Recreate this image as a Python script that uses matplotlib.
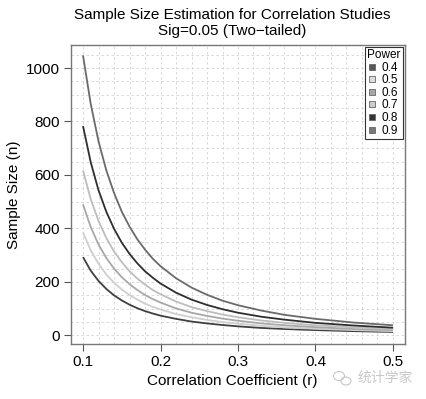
import matplotlib
matplotlib.use("Agg")
import matplotlib.pyplot as plt
from matplotlib.lines import Line2D
from matplotlib.patches import Ellipse
from matplotlib.ticker import MultipleLocator

plt.rcParams['font.family'] = ['Liberation Sans', 'DejaVu Sans']

# Data
r = [0.10, 0.11, 0.12, 0.13, 0.14, 0.15, 0.16, 0.17, 0.18, 0.19, 0.20,
     0.22, 0.24, 0.26, 0.28, 0.30, 0.33, 0.36, 0.40, 0.45, 0.50]
n_p40 = [293, 242, 204, 174, 150, 131, 115, 102, 91, 82, 74,
         62, 52, 45, 39, 34, 28, 24, 20, 16, 13]
n_p50 = [385, 318, 268, 228, 197, 172, 151, 134, 119, 107, 97,
         80, 68, 58, 50, 44, 36, 30, 25, 20, 16]
n_p60 = [490, 405, 340, 290, 250, 218, 192, 170, 151, 136, 123,
         101, 85, 73, 63, 55, 45, 38, 31, 24, 20]
n_p70 = [617, 509, 428, 365, 314, 274, 240, 213, 190, 170, 154,
         127, 106, 91, 78, 68, 56, 47, 38, 30, 24]
n_p80 = [783, 647, 543, 463, 399, 347, 305, 270, 240, 216, 194,
         160, 134, 114, 98, 85, 70, 59, 47, 37, 29]
n_p90 = [1047, 865, 726, 618, 533, 463, 407, 360, 321, 287, 259,
         214, 179, 152, 130, 113, 93, 77, 62, 48, 38]

powers = ['0.4', '0.5', '0.6', '0.7', '0.8', '0.9']
series = [n_p40, n_p50, n_p60, n_p70, n_p80, n_p90]
line_colors = ['#404040', '#cfcfcf', '#a8a8a8', '#bdbdbd', '#2e2e2e', '#6a6a6a']
legend_colors = ['#555555', '#dddddd', '#a6a6a6', '#cccccc', '#333333', '#777777']

fig = plt.figure(figsize=(4.26, 3.99), dpi=100)
ax = fig.add_axes([71/426, 1 - 344/399, (405-71)/426, (344-45)/399])

for vals, col in zip(series, line_colors):
    ax.plot(r, vals, color=col, lw=1.3, solid_capstyle='butt')

ax.set_xlim(0.0845, 0.5155)
ax.set_ylim(-32, 1086)
ax.set_xticks([0.1, 0.2, 0.3, 0.4, 0.5])
ax.set_xticklabels(['0.1', '0.2', '0.3', '0.4', '0.5'])
ax.set_yticks([0, 200, 400, 600, 800, 1000])
ax.xaxis.set_minor_locator(MultipleLocator(0.02))
ax.yaxis.set_minor_locator(MultipleLocator(50))
ax.grid(which='both', color='#d4d4d4', linestyle=(0, (3, 3)), lw=0.6)
ax.set_axisbelow(True)
ax.tick_params(which='minor', length=0)
ax.tick_params(which='major', length=5, width=0.8, color='#555555',
               labelsize=11, pad=3)
for s in ax.spines.values():
    s.set_color('#777777')
    s.set_linewidth(1.0)

ax.set_xlabel('Correlation Coefficient (r)', fontsize=11)
ax.xaxis.set_label_coords((232 - 71) / 334, -(374 - 344) / 299)
ax.set_ylabel('Sample Size (n)', fontsize=11)
ax.yaxis.set_label_coords(-(71 - 21) / 334, 0.5)
fig.text(232/426, 1 - 23/399, 'Sample Size Estimation for Correlation Studies\nSig=0.05 (Two\u2212tailed)',
         ha='center', va='center', fontsize=11, linespacing=1.25)

handles = [Line2D([], [], marker='s', linestyle='none', markersize=4.5,
                  markerfacecolor=c, markeredgecolor='#666666', markeredgewidth=0.6)
           for c in legend_colors]
leg = ax.legend(handles, powers, title='Power', loc='upper right',
                bbox_to_anchor=(1.0, 1.0), borderaxespad=0.15, fontsize=8.5,
                title_fontsize=8.5, frameon=True, fancybox=False,
                edgecolor='#333333', framealpha=1, handlelength=0.8,
                handletextpad=0.4, labelspacing=0.05, borderpad=0.2,
                alignment='left')
leg.get_frame().set_linewidth(0.8)

# watermark
fig.text(358/426, 1 - 378/399, '统计学家', fontsize=10, color='#c8c8c8',
         family=['Noto Sans CJK SC', 'DejaVu Sans'], ha='left', va='center')
fig.patches.append(Ellipse((339/426, 1 - 376/399), 11/426, 9/399, fill=False,
                           edgecolor='#c8c8c8', lw=0.8, transform=fig.transFigure))
fig.patches.append(Ellipse((346/426, 1 - 381/399), 10/426, 8/399, fill=False,
                           edgecolor='#c8c8c8', lw=0.8, transform=fig.transFigure))

fig.savefig('out.png', dpi=100)
